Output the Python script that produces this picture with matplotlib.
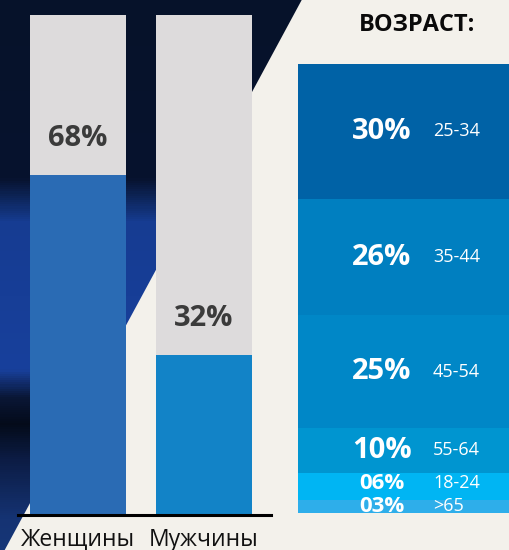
import numpy as np
import matplotlib
matplotlib.use("Agg")
import matplotlib.pyplot as plt
from matplotlib.colors import LinearSegmentedColormap
from matplotlib.patches import Polygon, Rectangle

plt.rcParams['font.family'] = ['Open Sans', 'DejaVu Sans']

# ---- data ----
gender_labels = ["Женщины", "Мужчины"]
gender_values = [68, 32]
gender_colors = ["#2a6bb4", "#1283c7"]

age_title = "ВОЗРАСТ:"
age_groups = ["25-34", "35-44", "45-54", "55-64", "18-24", ">65"]
age_values = [30, 26, 25, 10, 6, 3]
age_colors = ["#0062a6", "#007fc0", "#0087c7", "#0095d0", "#00b5f3", "#2eaeea"]

W, H = 509, 550
fig = plt.figure(figsize=(W / 100, H / 100), dpi=100)

# ---- background ----
bg = fig.add_axes([0, 0, 1, 1])
bg.set_xlim(0, W)
bg.set_ylim(H, 0)
bg.axis('off')
bg.add_patch(Rectangle((0, 0), W, H, color='#f3f1eb', zorder=0))
stops = [(0.0, '#06122a'), (178 / H, '#07132e'), (222 / H, '#163c92'),
         (370 / H, '#18409c'), (398 / H, '#0a1736'), (425 / H, '#040b1a'),
         (460 / H, '#0c1c44'), (520 / H, '#153373'), (1.0, '#163677')]
cmap = LinearSegmentedColormap.from_list('bgc', stops)
grad = np.linspace(0, 1, 550).reshape(-1, 1)
im = bg.imshow(grad, cmap=cmap, extent=(0, W, H, 0), aspect='auto', zorder=1)
poly = Polygon([(0, 0), (301.7, 0), (301.7 - 0.54 * H, H), (0, H)],
               closed=True, transform=bg.transData, facecolor='none', edgecolor='none')
bg.add_patch(poly)
im.set_clip_path(poly)

# ---- left: gender bars ----
ax1 = fig.add_axes([18 / W, (H - 515) / H, 253 / W, 500 / H])
ax1.patch.set_visible(False)
x = np.arange(len(gender_labels))
bw = 0.762
ax1.bar(x, [100] * len(x), width=bw, color='#dddbdc', linewidth=0)
ax1.bar(x, gender_values, width=bw, color=gender_colors, linewidth=0)
ax1.set_xlim(-0.476, 1.532)
ax1.set_ylim(0, 100)
for s in ['top', 'left', 'right']:
    ax1.spines[s].set_visible(False)
ax1.spines['bottom'].set_linewidth(2.2)
ax1.spines['bottom'].set_color('#000000')
ax1.set_yticks([])
ax1.set_xticks(x, gender_labels)
ax1.tick_params(axis='x', length=0, pad=9, labelsize=16.5, labelcolor='#111111')
for xi, v in zip(x, gender_values):
    ax1.annotate(f"{v}%", (xi, v), xytext=(0, 26), textcoords='offset points',
                 ha='center', va='center', fontsize=21, fontweight='bold', color='#3b3b3b')

# ---- right: age stacked column ----
ax2 = fig.add_axes([298 / W, (H - 513) / H, (W - 298) / W, 449 / H])
ax2.axis('off')
bottoms = np.concatenate([[0], np.cumsum(age_values)[:-1]])
ax2.bar(0, age_values, bottom=bottoms, width=1.0, color=age_colors, linewidth=0)
ax2.set_xlim(-0.5, 0.5)
ax2.set_ylim(sum(age_values), 0)
for b, v, g in zip(bottoms, age_values, age_groups):
    yc = b + v / 2
    small = v < 8
    fs = 16 if small else 21
    dy = 2.2 if v == 6 else 0
    ax2.annotate(f"{v:02d}%", (-0.102, yc), xytext=(0, dy), textcoords='offset points',
                 ha='center', va='center', fontsize=fs, fontweight='bold', color='white')
    ax2.annotate(g, (0.14, yc), xytext=(0, dy), textcoords='offset points',
                 ha='left', va='center', fontsize=13, color='white')

fig.text(417.5 / W, 1 - 25 / H, age_title, ha='center', va='center', fontsize=17,
         fontweight='bold', color='#0a0a0a')

fig.savefig('out.png', dpi=100)
